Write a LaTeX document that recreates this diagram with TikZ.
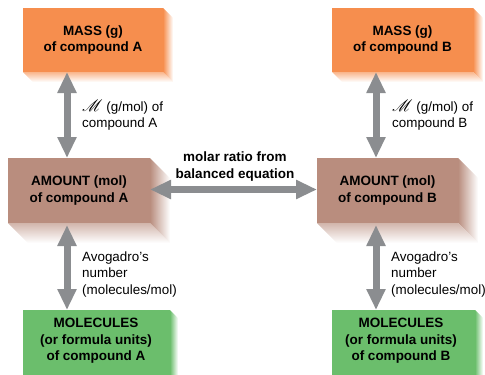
\documentclass[tikz,border=0pt]{standalone}
\usepackage{fontspec}
\setmainfont{Liberation Sans}
\usepackage{mathrsfs}
\usetikzlibrary{arrows.meta}
\definecolor{orng}{HTML}{F68E4E}
\definecolor{brwn}{HTML}{B98D7E}
\definecolor{grn}{HTML}{6BBE6C}
\definecolor{arrgray}{HTML}{8B8D90}
\newcommand\extrude[3]{%
  \shade[left color=#3, right color=white] (#1.north east) -- ++(#2,#2) -- ([shift={(#2,#2)}]#1.south east) -- (#1.south east) -- cycle;
  \shade[top color=#3!65!white, bottom color=white] (#1.south west) -- (#1.south east) -- ([shift={(#2,#2)}]#1.south east) -- ([shift={(#2,#2)}]#1.south west) -- cycle;
}
\newcommand\molmass{\raisebox{0pt}{\scalebox{1.15}{$\mathscr{M}$}}}
\begin{document}
\begin{tikzpicture}[x=1pt,y=-1pt,
  frontbox/.style n args={3}{anchor=north west, fill=#1, minimum width=#2, minimum height=#3,
    inner sep=0pt, outer sep=0pt, align=center, font=\bfseries\fontsize{13.5}{16.5}\selectfont},
  lbl/.style={anchor=west, align=left, inner sep=0pt, font=\fontsize{13.4}{16.5}\selectfont},
  boldlbl/.style={align=center, inner sep=0pt, font=\bfseries\fontsize{13.5}{16.5}\selectfont},
  dblarrow/.style={draw=arrgray, line width=7pt, {Triangle[length=21pt,width=18pt]}-{Triangle[length=21pt,width=18pt]}}]
\useasboundingbox (0,0) rectangle (485,375);
\clip (0,0) rectangle (485,375);
% boxes
\node[frontbox={orng}{140pt}{64pt}] (massA) at (23,8) {MASS (g)\\of compound A};
\node[frontbox={orng}{141pt}{64pt}] (massB) at (332,8) {MASS (g)\\of compound B};
\node[frontbox={brwn}{142pt}{65pt}] (amtA) at (8,158) {AMOUNT (mol)\\of compound A};
\node[frontbox={brwn}{141pt}{65pt}] (amtB) at (317,158) {AMOUNT (mol)\\of compound B};
\node[frontbox={grn}{147pt}{75pt}] (molA) at (23,310) {};
\node[frontbox={grn}{143pt}{75pt}] (molB) at (332,310) {};
\extrude{massA}{10}{orng}
\extrude{massB}{10}{orng}
\extrude{amtA}{20}{brwn}
\extrude{amtB}{20}{brwn}
\extrude{molA}{8}{grn}
\extrude{molB}{8}{grn}
\node[boldlbl] (molAtxt) at (96,341) {MOLECULES\\(or formula units)\\of compound A};
\node[boldlbl] (molBtxt) at (401,341) {MOLECULES\\(or formula units)\\of compound B};
% labels
\node[lbl] (mmA) at (82,115) {\molmass\ (g/mol) of\\compound A};
\node[lbl] (mmB) at (392,115) {\molmass\ (g/mol) of\\compound B};
\node[lbl] (avA) at (82,274.5) {Avogadro’s\\number\\(molecules/mol)};
\node[lbl] (avB) at (391,274.5) {Avogadro’s\\number\\(molecules/mol)};
\node[boldlbl] (ratio) at (235,166.5) {molar ratio from\\balanced equation};
% arrows
\draw[dblarrow] ([xshift=44pt]massA.south west) -- ([xshift=59pt]amtA.north west);
\draw[dblarrow] ([xshift=44pt]massB.south west) -- ([xshift=59pt]amtB.north west);
\draw[dblarrow] ([shift={(59,2)}]amtA.south west) -- ([xshift=44pt]molA.north west);
\draw[dblarrow] ([shift={(59,2)}]amtB.south west) -- ([xshift=44pt]molB.north west);
\draw[dblarrow] ([yshift=1pt]amtA.east) -- ([yshift=1pt]amtB.west);
\end{tikzpicture}
\end{document}
